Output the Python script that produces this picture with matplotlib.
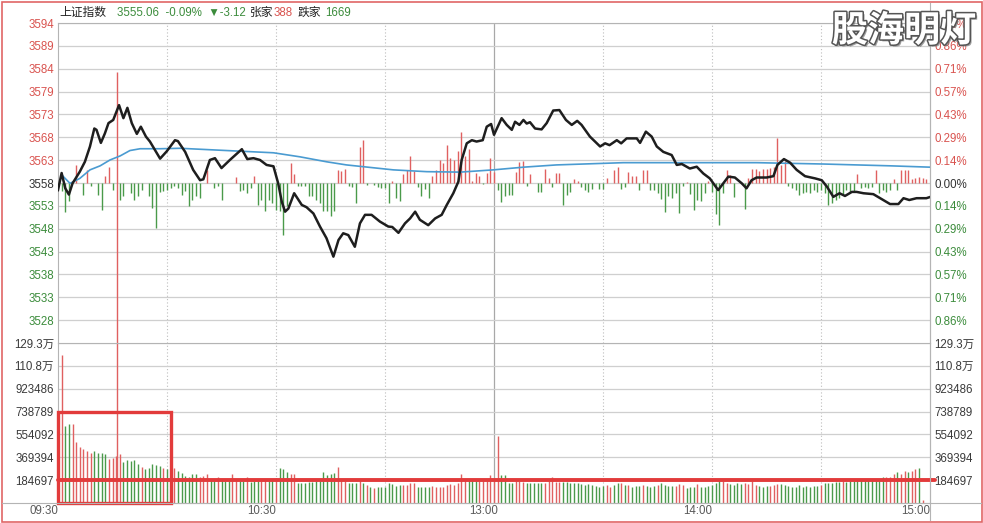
import numpy as np
import matplotlib
matplotlib.use('Agg')
import matplotlib.pyplot as plt
import matplotlib.patches as mpatches
import matplotlib.patheffects as pe
from matplotlib.lines import Line2D
from matplotlib.transforms import blended_transform_factory

plt.rcParams['font.family'] = ['Liberation Sans', 'Noto Sans CJK SC', 'DejaVu Sans']

# ── Data ──────────────────────────────────────────────────────────────────
PREV_CLOSE = 3558.18
LAST_PRICE = 3555.06
VOL_STEP = 184697.2

line_minutes = [0, 1, 2, 3, 4, 6, 7.4, 8.8, 10, 10.6, 11.8, 12.9, 13.9, 15.2, 16.8, 18, 19.1,
                20.3, 21.7, 22.8, 24.2, 25.3, 26.7, 28.1, 29.9, 32.2, 33, 35, 37.2, 39.1, 40,
                41.8, 43.2, 45, 47.3, 50.6, 52.1, 53.8, 55.6, 57.4, 59.3, 60.6, 61.6, 62.5,
                63.4, 65, 67.1, 68.4, 70.3, 72.1, 73.9, 75.8, 77.2, 78.5, 79.9, 81.7, 83.1,
                84.5, 86.3, 88.6, 90.9, 92, 93.7, 95.5, 96.9, 98.3, 99.6, 101.9, 103.8, 105.6,
                107, 108.8, 110.2, 111.1, 112.5, 113.9, 115.2, 116.9, 118, 119.2, 120, 122.1,
                123.5, 124.9, 125.8, 127, 128.1, 129, 129.9, 131.3, 133.1, 134.5, 136.3, 138,
                139.8, 141.4, 142.9, 144.1, 146.4, 149.2, 150.6, 151.8, 153.8, 155, 156.5,
                159.3, 160.2, 161.8, 163.4, 164.8, 166.6, 168.9, 170.3, 171.7, 173.9, 175.8,
                177.6, 179.4, 181.7, 183.1, 184.5, 186.3, 188.2, 189.5, 190.9, 192.3, 195,
                196.9, 198, 199.8, 201.5, 203.3, 205.6, 208.4, 210.2, 211.6, 213.4, 215.1,
                216.6, 218.5, 219.8, 221.7, 224.4, 226.3, 229, 231.3, 232.7, 234.3, 236.3,
                239, 240]
line_prices = [3556.6, 3560.4, 3557.0, 3555.6, 3558.1, 3560.7, 3562.9, 3566.3, 3570.3, 3570.0,
               3567.1, 3569.2, 3571.5, 3572.2, 3575.5, 3572.6, 3574.9, 3571.5, 3569.1, 3570.7,
               3568.5, 3567.4, 3565.5, 3563.6, 3565.2, 3567.7, 3567.5, 3565.1, 3561.1, 3558.8,
               3559.0, 3563.3, 3563.7, 3561.5, 3563.3, 3565.7, 3563.5, 3563.7, 3563.3, 3562.2,
               3561.9, 3558.1, 3554.0, 3551.8, 3552.5, 3555.9, 3553.3, 3552.8, 3551.4, 3548.5,
               3545.9, 3541.8, 3545.5, 3547.0, 3546.6, 3544.0, 3549.2, 3551.1, 3551.1, 3549.6,
               3548.5, 3548.4, 3547.1, 3549.2, 3550.3, 3551.8, 3550.0, 3548.8, 3550.3, 3551.1,
               3553.3, 3555.9, 3558.5, 3563.3, 3567.0, 3567.7, 3567.4, 3567.7, 3570.7, 3571.3,
               3568.9, 3572.6, 3571.1, 3570.0, 3571.8, 3571.1, 3572.2, 3571.4, 3571.7, 3570.3,
               3570.1, 3571.5, 3574.3, 3574.4, 3572.2, 3571.1, 3572.0, 3571.1, 3568.5, 3566.3,
               3567.0, 3566.6, 3567.7, 3567.0, 3568.1, 3568.1, 3567.1, 3569.6, 3568.5, 3566.3,
               3565.1, 3564.4, 3562.2, 3562.4, 3561.4, 3561.8, 3560.3, 3559.2, 3556.6, 3558.1,
               3559.6, 3559.4, 3558.1, 3557.0, 3558.8, 3559.4, 3559.4, 3559.7, 3562.2, 3563.5,
               3562.7, 3561.1, 3559.7, 3559.2, 3558.8, 3557.4, 3555.1, 3555.9, 3555.3, 3556.2,
               3556.2, 3555.9, 3555.7, 3554.8, 3553.5, 3553.5, 3554.8, 3554.4, 3554.8, 3554.8,
               3555.06]

avg_minutes = [1, 3.3, 6, 8.8, 11.6, 14.3, 17.1, 19.8, 22.6, 28.1, 33.6, 46.4, 59.3, 66.6,
               73.9, 79.4, 92.3, 101.5, 110.7, 119.8, 128.1, 137.2, 155.6, 174, 192.3, 210.7,
               229, 240]
avg_prices = [3560.0, 3558.1, 3559.2, 3561.1, 3562.0, 3563.3, 3564.2, 3565.4, 3565.8, 3565.8,
              3565.9, 3565.4, 3564.9, 3564.0, 3562.9, 3562.2, 3561.1, 3560.7, 3560.6, 3561.1,
              3561.7, 3562.2, 3562.7, 3562.7, 3562.7, 3562.4, 3562.0, 3561.7]

# up/down breadth bars around the previous close (index points)
breadth_minutes = [1, 2, 3, 5, 7, 8, 9, 11, 12, 13, 14, 15, 17, 18, 20, 21, 22, 23, 25, 26, 27,
                   28, 29, 30, 31, 32, 33, 34, 35, 36, 37, 38, 39, 41, 43, 44, 45, 49, 50, 51,
                   52, 53, 54, 55, 56, 57, 58, 59, 60, 61, 62, 63, 64, 65, 66, 67, 68, 69, 70,
                   71, 72, 73, 74, 75, 76, 77, 78, 79, 80, 81, 82, 83, 84, 85, 87, 88, 89, 90,
                   91, 92, 93, 94, 95, 96, 97, 98, 99, 100, 101, 102, 103, 104, 105, 106, 107,
                   108, 109, 110, 111, 112, 113, 114, 115, 116, 117, 118, 119, 120, 121, 122,
                   123, 124, 125, 126, 127, 128, 129, 130, 132, 133, 134, 135, 136, 137, 138,
                   139, 140, 141, 142, 143, 144, 145, 146, 147, 149, 150, 151, 153, 154, 155,
                   156, 157, 158, 159, 160, 161, 162, 163, 164, 165, 166, 167, 168, 169, 170,
                   171, 172, 173, 174, 175, 176, 177, 178, 179, 180, 181, 182, 183, 184, 185,
                   186, 189, 190, 191, 192, 193, 194, 195, 196, 197, 198, 199, 200, 201, 202,
                   203, 204, 205, 206, 207, 208, 209, 210, 211, 212, 213, 214, 215, 216, 217,
                   218, 219, 220, 221, 222, 223, 224, 225, 226, 227, 228, 229, 230, 231, 232,
                   233, 234, 235, 236, 237, 238, 239]
breadth_values = [-1.8, -6.5, -4.1, 3.9, -2.6, 3.0, -0.7, -2.6, -5.9, 1.5, 3.6, -1.6, -3.7, -2.9,
                  -2.2, -3.7, -2.9, -1.5, -2.8, -5.6, -9.9, -2.0, -1.8, -1.5, -1.1, -0.7, -1.1,
                  -2.6, -1.8, -5.2, -3.7, -2.9, -3.3, 3.0, -1.1, -0.7, -3.7, 1.3, -1.8, -1.5,
                  -2.2, -1.1, 1.6, -4.8, -3.7, -6.3, -3.7, -4.4, -6.1, -6.3, -11.5, -5.2, 4.4,
                  2.1, -0.7, -0.7, -0.7, -3.0, -3.0, -3.7, -4.4, -6.3, -6.3, -7.4, -6.3, 3.0,
                  2.7, 3.1, -0.7, -0.9, -4.4, 8.0, 9.6, -0.5, -0.5, -0.9, -1.1, -1.1, -4.4, 0.4,
                  -3.3, -4.1, 2.1, 3.0, 6.1, 2.6, -0.9, -2.8, -1.4, -3.3, 1.5, 2.8, 5.2, 4.4,
                  8.5, 5.6, 5.2, 7.1, 11.3, 6.1, 7.6, 0.4, 2.2, 1.5, -0.3, 2.2, 5.6, 2.4, -1.6,
                  -4.2, -3.0, -2.7, -2.7, 2.4, 4.7, 4.9, -0.7, 2.1, -1.9, -1.9, 3.2, 1.2, -0.9,
                  2.2, 2.2, -5.0, -2.7, -1.9, 0.9, 0.4, -0.9, -1.5, -1.9, -1.3, -1.3, -1.3, 1.2,
                  3.0, 3.6, -1.3, -0.9, 2.4, 1.5, 1.5, -1.5, 2.8, 3.0, -1.5, -1.5, -2.2, -3.5,
                  -6.5, -3.0, -3.3, -2.2, -6.7, -0.7, 0.2, -2.4, -6.1, -3.7, -4.1, -2.2, 0.4,
                  -2.1, -6.8, -9.4, -2.2, 3.0, 1.7, -3.1, -5.7, 1.2, 3.2, 3.2, 2.7, 3.1, 3.1,
                  3.4, 3.6, 10.1, 3.9, 5.0, -0.7, -1.1, -1.5, -2.7, -2.2, -1.9, -2.2, -1.5, -1.9,
                  -1.5, -2.2, -5.0, -4.4, -3.7, -3.3, -2.6, -1.5, -1.9, -2.1, 2.1, -1.1, -0.9,
                  -1.1, -0.9, 3.0, -2.2, -1.5, -2.1, -1.5, 1.0, -1.5, 2.8, 2.8, 2.8, 1.0, 1.2,
                  1.3, 1.2, 1.0]

cursor_minute = 16.3
cursor_price = 3582.9

# per-minute volume, thousands of shares; r = up minute, g = down minute
volume_k = [1196, 622, 636, 636, 495, 450, 434, 420, 401, 423,
            407, 401, 396, 355, 366, 380, 396, 334, 347, 339,
            347, 312, 288, 272, 285, 312, 307, 299, 285, 272,
            280, 280, 259, 245, 218, 213, 234, 234, 213, 218,
            234, 191, 186, 213, 186, 180, 180, 232, 186, 180,
            180, 213, 172, 180, 180, 180, 186, 180, 186, 199,
            280, 272, 248, 234, 234, 159, 159, 164, 172, 172,
            178, 178, 248, 226, 232, 240, 288, 186, 180, 164,
            159, 164, 178, 159, 145, 127, 119, 132, 127, 127,
            159, 151, 137, 145, 145, 145, 164, 159, 132, 127,
            127, 127, 137, 132, 127, 132, 145, 153, 145, 159,
            234, 186, 186, 186, 186, 186, 186, 186, 226, 186,
            541, 226, 226, 164, 159, 180, 180, 172, 164, 159,
            159, 164, 159, 164, 180, 207, 172, 172, 172, 172,
            164, 159, 159, 153, 145, 153, 145, 137, 132, 137,
            145, 132, 145, 159, 159, 145, 145, 132, 137, 137,
            145, 137, 127, 137, 145, 159, 145, 137, 137, 137,
            153, 145, 119, 127, 132, 153, 127, 132, 137, 145,
            164, 186, 180, 164, 153, 145, 159, 153, 159, 153,
            180, 145, 137, 132, 137, 137, 145, 153, 153, 145,
            137, 127, 132, 145, 132, 137, 132, 137, 137, 145,
            159, 159, 164, 172, 172, 180, 172, 180, 180, 186,
            186, 186, 186, 186, 186, 191, 207, 213, 213, 234,
            248, 234, 261, 253, 261, 272, 280, 24]
volume_dir = ("rggrrrrrrg" "gggrrrrggg" "ggrgggggrg" "rrggggggrr" "rggrgggrrg"
              "grgggrrggr" "gggrrggggg" "ggggggrrrg" "ggrgrgrggg" "ggggrrrrgg"
              "ggrrrrrrrr" "rrgggrrrrr" "rggggrrrgg" "gggrrrrrgg" "gggggggggg"
              "rrggrgrggg" "rgggrggggr" "rrgggrgggg" "ggrrggggrr" "rrgggrrrgg"
              "gggggggggr" "gggggrgggg" "gggggggrrr" "grrgrrgr")

time_ticks = [0, 60, 121, 180, 240]
time_labels = ['09:30', '10:30', '13:00', '14:00', '15:00']
dotted_minutes = [30, 60, 90, 150, 180, 210]
lunch_minute = 120

# ── Style ─────────────────────────────────────────────────────────────────
W, H = 983, 523
RED = '#e06060'
GREEN = '#4a9a4a'
TXT_RED = '#d9534f'
TXT_GRN = '#3c8c3c'
GRID = '#cfcfcf'
FRAME = '#b4b4b4'
MARK = '#e23b3b'
FS = 8.3


def fx(x):
    return x / W


def fy(y):
    return 1 - y / H


fig = plt.figure(figsize=(W / 100, H / 100), dpi=100)
fig.patch.set_facecolor('white')

ax = fig.add_axes([fx(58), fy(343), fx(930) - fx(58), fy(23) - fy(343)])
axv = fig.add_axes([fx(58), fy(503), fx(930) - fx(58), fy(343) - fy(503)])

for a in (ax, axv):
    a.set_xlim(0, 240)
    a.set_xticks([])
    a.set_facecolor('white')
    for s in a.spines.values():
        s.set_color(FRAME)
        s.set_linewidth(0.8)
    for m in dotted_minutes:
        a.axvline(m, color='#bdbdbd', lw=0.8, ls=(0, (1, 2)), zorder=1)
    a.axvline(lunch_minute, color='#a8a8a8', lw=0.9, zorder=1)
ax.spines['bottom'].set_visible(False)

# ── Price panel ───────────────────────────────────────────────────────────
ylo, yhi = PREV_CLOSE * 0.99, PREV_CLOSE * 1.01
ax.set_ylim(ylo, yhi)
k = np.arange(-6, 8)
pticks = PREV_CLOSE * (1 + k * 0.01 / 7)
for t in pticks:
    ax.axhline(t, color=GRID, lw=0.9, zorder=1)

ax.set_yticks(pticks)
ax.set_yticklabels([f'{t:.0f}' for t in pticks])
axr = ax.twinx()
axr.set_ylim(ylo, yhi)
axr.set_yticks(pticks)
axr.set_yticklabels([f'{abs(i) / 7:.2f}%' for i in k])
for s in axr.spines.values():
    s.set_visible(False)
for a in (ax, axr):
    a.tick_params(axis='y', length=0, pad=3, labelsize=FS)
for i, lab in zip(k, ax.get_yticklabels()):
    lab.set_color(TXT_RED if i > 0 else (TXT_GRN if i < 0 else '#333333'))
for i, lab in zip(k, axr.get_yticklabels()):
    lab.set_color(TXT_RED if i > 0 else (TXT_GRN if i < 0 else '#333333'))

bm = np.array(breadth_minutes)
bv = np.array(breadth_values)
ax.vlines(bm, PREV_CLOSE, PREV_CLOSE + bv,
          colors=[RED if v > 0 else GREEN for v in bv], lw=1.0, zorder=2)
ax.vlines(cursor_minute, ylo, cursor_price, colors=RED, lw=1.0, zorder=2)
axv.vlines(cursor_minute, 0, 7 * VOL_STEP, colors=RED, lw=1.0, zorder=2)

ax.plot(avg_minutes, avg_prices, color='#4a9bd1', lw=1.2, zorder=3)
ax.plot(line_minutes, line_prices, color='#1e1e1e', lw=1.8, zorder=4,
        solid_joinstyle='round')

# ── Volume panel ──────────────────────────────────────────────────────────
vol = np.array(volume_k) * 1000
vx = np.arange(1, len(vol) + 1)
axv.set_ylim(0, 7 * VOL_STEP)
vk = np.arange(1, 8)
vticks = vk * VOL_STEP
for t in vticks:
    axv.axhline(t, color=GRID, lw=0.9, zorder=1)
vlabels = [f'{t / 1e4:.1f}万' if t >= 1e6 else f'{t:.0f}' for t in vticks]
axv.set_yticks(vticks)
axv.set_yticklabels(vlabels)
axvr = axv.twinx()
axvr.set_ylim(0, 7 * VOL_STEP)
axvr.set_yticks(vticks)
axvr.set_yticklabels(vlabels)
for s in axvr.spines.values():
    s.set_visible(False)
for a in (axv, axvr):
    a.tick_params(axis='y', length=0, pad=3, labelsize=FS, labelcolor='#3a3a3a')

axv.vlines(vx, 0, vol, colors=[RED if c == 'r' else GREEN for c in volume_dir],
           lw=1.0, zorder=2)

tr = blended_transform_factory(axv.transData, axv.transAxes)
for m, lab in zip(time_ticks, time_labels):
    axv.text(m, -0.052, lab, transform=tr, ha='right', va='center',
             fontsize=FS, color='#5a5a5a', clip_on=False)

# red highlight marks
axv.add_patch(mpatches.Rectangle((0, 0), 31, 4 * VOL_STEP, fill=False, ec=MARK,
                                 lw=2.4, zorder=6, clip_on=False))
axv.plot([0, 241.4], [VOL_STEP, VOL_STEP], color=MARK, lw=2.8, zorder=6,
         clip_on=False, solid_capstyle='round')

# ── Header ────────────────────────────────────────────────────────────────
chg = LAST_PRICE - PREV_CLOSE
hy = fy(13)
fig.text(fx(59), hy, '上证指数', fontsize=8.5, color='#222222', va='center')
fig.text(fx(117), hy, f'{LAST_PRICE:.2f}  {chg / PREV_CLOSE * 100:.2f}%  ▼{chg:.2f}',
         fontsize=8.3, color=TXT_GRN, va='center')
fig.text(fx(250), hy, '张家', fontsize=8.5, color='#222222', va='center')
fig.text(fx(274), hy, '388', fontsize=8.3, color=TXT_RED, va='center')
fig.text(fx(298), hy, '跌家', fontsize=8.5, color='#222222', va='center')
fig.text(fx(325), hy, '1669', fontsize=8.3, color=TXT_GRN, va='center')

# ── Frame lines and watermark ─────────────────────────────────────────────
fig.add_artist(Line2D([fx(2), fx(981)], [fy(503), fy(503)], color=FRAME, lw=0.8))
fig.add_artist(Line2D([fx(930), fx(930)], [fy(3), fy(520)], color=FRAME, lw=0.8))
fig.add_artist(mpatches.Rectangle((fx(1.5), fy(521.5)), fx(980), fy(1.5) - fy(521.5),
                                  transform=fig.transFigure, fill=False,
                                  ec='#e06666', lw=1.2))

fig.text(fx(904), fy(31), '股海明灯', fontsize=26, fontweight='bold',
         family=['Noto Sans CJK SC'], color='white', ha='center', va='center',
         zorder=20,
         path_effects=[pe.SimplePatchShadow(offset=(1.5, -1.5), shadow_rgbFace='#777777',
                                            alpha=0.7),
                       pe.Stroke(linewidth=2.2, foreground='#555555'), pe.Normal()])

fig.savefig('out.png', dpi=100)
